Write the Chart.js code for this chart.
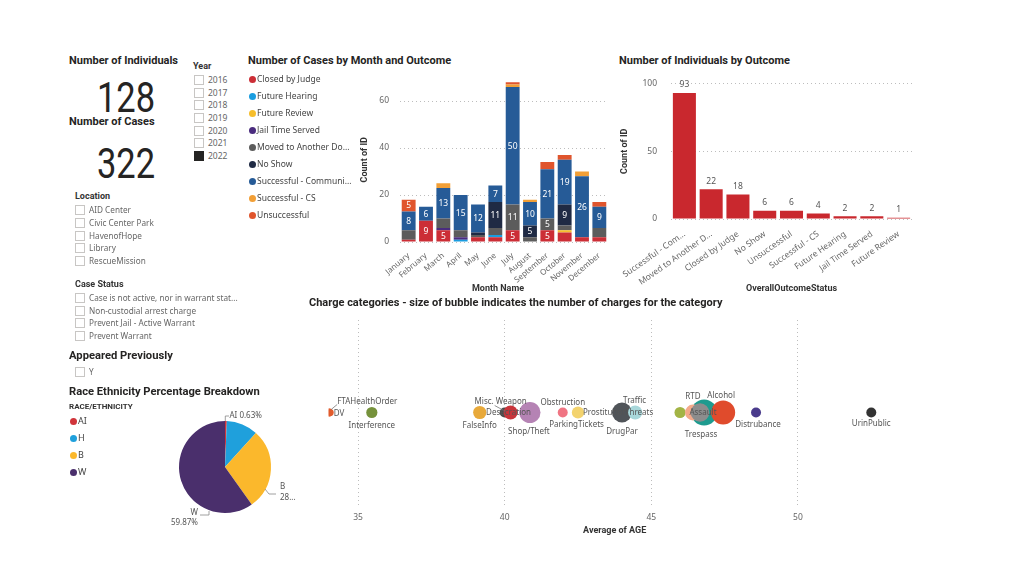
<!DOCTYPE html>
<html><head><meta charset="utf-8">
<script src="https://cdn.jsdelivr.net/npm/chart.js@4.4.1/dist/chart.umd.min.js"></script>
<style>
html,body{margin:0;padding:0;background:#fff;width:1024px;height:576px;overflow:hidden;position:relative;font-family:Roboto,"Noto Sans",sans-serif;}
.t{position:absolute;white-space:nowrap;line-height:12px;height:12px;}
.title{font-family:Roboto;font-weight:700;font-size:11px;color:#252423;}
.title2{font-family:Roboto;font-weight:700;font-size:11.2px;color:#252423;}
.head{font-family:Roboto;font-weight:700;font-size:9px;color:#333;}
.item{font-family:"Noto Sans",Roboto,sans-serif;font-size:8.2px;color:#666;}
.leg{font-family:"Noto Sans",Roboto,sans-serif;font-size:8.5px;color:#444;}
.big{position:absolute;font-family:Roboto;font-weight:400;font-size:42px;line-height:42px;color:#252423;transform:scaleX(0.82);transform-origin:center;width:80px;text-align:center;}
.box{position:absolute;width:8px;height:8px;border:1px solid #c8c6c4;background:#fff;}
.box.on{background:#252423;border-color:#252423;}
.dot{position:absolute;width:7px;height:7px;border-radius:50%;}
canvas{position:absolute;}
</style></head>
<body>
<canvas id="c1" width="260" height="228" style="left:355px;top:70px;"></canvas>
<canvas id="c2" width="305" height="228" style="left:615px;top:70px;"></canvas>
<canvas id="c3" width="600" height="230" style="left:305px;top:310px;"></canvas>
<canvas id="c4" width="145" height="130" style="left:160px;top:405px;"></canvas>
<script>
// ---------- DATA ----------
const numIndividuals = 128;
const numCases = 322;
const years = ["2016","2017","2018","2019","2020","2021","2022"];
const selectedYears = ["2022"];
const locations = ["AID Center","Civic Center Park","HavenofHope","Library","RescueMission"];
const caseStatuses = ["Case is not active, nor in warrant stat...","Non-custodial arrest charge","Prevent Jail - Active Warrant","Prevent Warrant"];
const appearedPrevious = ["Y"];

const months = ["January","February","March","April","May","June","July","August","September","October","November","December"];
const outcomes = ["Closed by Judge","Future Hearing","Future Review","Jail Time Served","Moved to Another Do...","No Show","Successful - Communi...","Successful - CS","Unsuccessful"];
const closedByJudge       = [1,9,5,0,2,2,5,0,5,4,2,2];
const futureHearing       = [0,0,0,1,0,1,0,0,0,0,0,0];
const futureReview        = [0,0,0,0,0,0,0,0,0,1,0,0];
const jailTimeServed      = [0,0,1,1,0,0,0,0,0,0,0,0];
const movedToAnother      = [4,0,4,3,1,3,11,2,5,2,0,4];
const noShow              = [0,0,0,0,1,11,0,5,0,9,0,0];
const successfulCommunity = [8,6,13,15,12,7,50,10,21,19,26,9];
const successfulCS        = [0,0,2,0,0,0,1,1,0,0,2,0];
const unsuccessful        = [5,0,0,0,0,0,1,0,3,2,0,2];
const monthTicks = [0,20,40,60];

const outcomeLabels = ["Successful - Com...","Moved to Another D...","Closed by Judge","No Show","Unsuccessful","Successful - CS","Future Hearing","Jail Time Served","Future Review"];
const individuals = [93,22,18,6,6,4,2,2,1];
const outcomeTicks = [0,50,100];

const races = ["AI","H","B","W"];
const racePct = [0.63,11.08,28.42,59.87];

const charges   = ["DV","FTAHealthOrder","Interference","FalseInfo","Misc. Weapon","Desecration","Shop/Theft","Obstruction","ParkingTickets","Prostitution","Other1","DrugPar","Threats","Traffic","Other2","Trespass","RTD","Assault","Alcohol","Distrubance","UrinPublic"];
const avgAge    = [34.0,34.05,35.47,39.15,40.0,40.2,40.86,41.98,42.45,42.5,43.9,44.0,44.45,44.5,45.98,46.8,46.42,46.66,47.45,48.57,52.5];
const chargeCount = [3,2,5,7,4,8,18,4,3,6,6,16,8,3,5,27,10,14,23,4,4];
const ageTicks = [35,40,45,50];

// ---------- STYLES ----------
const stackColors = ['#CC2E36','#1A9DE0','#F6BE2C','#4A2C7E','#5C5C5C','#1F2A44','#265B97','#F29F36','#E0552D'];
const stackSeries = [closedByJudge,futureHearing,futureReview,jailTimeServed,movedToAnother,noShow,successfulCommunity,successfulCS,unsuccessful];
const raceColors = ['#D0343A','#1FA0DC','#FBB82C','#4A2F6C'];
const chargeColors = ['#E15B2C','#E15B2C','#76923C','#E8A93A','#4B4B4B','#C8353B','#B583B4','#F07583','#F3D36E','#F3D36E','#1E8C93','#505459','#A8D7DA','#A8D7DA','#A3B445','#1E9B8F','#F4A98A','#8D8D8D','#E04B2C','#4A3B8C','#333333'];

// ---------- HTML PANELS ----------
function txt(s, x, y, cls){ const d=document.createElement('div'); d.className='t '+cls; d.textContent=s; d.style.left=x+'px'; d.style.top=(y-6)+'px'; document.body.appendChild(d); return d; }
function box(x, y, on){ const d=document.createElement('div'); d.className='box'+(on?' on':''); d.style.left=x+'px'; d.style.top=(y-5)+'px'; document.body.appendChild(d); }
function dot(x, y, c){ const d=document.createElement('div'); d.className='dot'; d.style.background=c; d.style.left=x+'px'; d.style.top=(y-3.5)+'px'; document.body.appendChild(d); }

txt("Number of Individuals", 69, 61, 'title');
const b1=document.createElement('div'); b1.className='big'; b1.textContent=numIndividuals; b1.style.left='86px'; b1.style.top='76.6px'; document.body.appendChild(b1);
txt("Number of Cases", 69, 122, 'title');
const b2=document.createElement('div'); b2.className='big'; b2.textContent=numCases; b2.style.left='86px'; b2.style.top='142.6px'; document.body.appendChild(b2);

txt("Year", 193, 66, 'head');
years.forEach((y,i)=>{ const yc=80+i*12.67; box(194, yc, selectedYears.includes(y)); txt(y, 208, yc, 'item').style.fontSize='8.5px'; });

txt("Location", 75, 196, 'head');
locations.forEach((l,i)=>{ const yc=210+i*12.75; box(75, yc, false); txt(l, 89, yc, 'item'); });
txt("Case Status", 75, 284, 'head');
caseStatuses.forEach((l,i)=>{ const yc=298+i*12.7; box(75, yc, false); txt(l, 89, yc, 'item'); });
txt("Appeared Previously", 69, 356, 'title2');
appearedPrevious.forEach((l,i)=>{ const yc=372+i*12.7; box(75, yc, false); txt(l, 89, yc, 'item'); });

txt("Race Ethnicity Percentage Breakdown", 69, 392, 'title2');
const rh = txt("RACE/ETHNICITY", 69, 407, 'head'); rh.style.fontSize='8px';
races.forEach((r,i)=>{ const yc=421+i*17; dot(70, yc, raceColors[i]); txt(r, 78, yc, 'leg').style.fontSize='9px'; });

txt("Number of Cases by Month and Outcome", 248, 61, 'title');
outcomes.forEach((o,i)=>{ const yc=79+i*17; dot(249, yc, stackColors[i]); txt(o, 257, yc, 'leg'); });
txt("Number of Individuals by Outcome", 619, 61, 'title');
txt("Charge categories - size of bubble indicates the number of charges for the category", 309, 303, 'title');

// ---------- CHART DEFAULTS ----------
Chart.defaults.font.family = '"Noto Sans", Roboto, sans-serif';
Chart.defaults.color = '#666';
Chart.defaults.animation = false;
Chart.defaults.responsive = false;
Chart.defaults.devicePixelRatio = 1;
const axisTitleFont = {family:'Roboto', weight:'bold', size:9};
function noPad(s){ s.paddingTop=0; s.paddingBottom=0; s.paddingLeft=0; s.paddingRight=0; }

// ---------- PLUGINS ----------
const segLabelPlugin = {id:'segLabels', afterDatasetsDraw(chart){
  const ctx=chart.ctx; ctx.save(); ctx.font='8.5px "Noto Sans"'; ctx.fillStyle='#fff'; ctx.textAlign='center'; ctx.textBaseline='middle';
  chart.data.datasets.forEach((ds,i)=>{ chart.getDatasetMeta(i).data.forEach((bar,j)=>{ const v=ds.data[j]; if(v>=5){ ctx.fillText(String(v), bar.x, (bar.y+bar.base)/2+0.5); } }); });
  ctx.restore(); }};
const axisTitlePlugin = {id:'axisTitles', afterDraw(chart, args, opts){
  const ctx=chart.ctx, a=chart.chartArea; ctx.save(); ctx.font='bold 9px Roboto'; ctx.fillStyle='#333'; ctx.textAlign='center'; ctx.textBaseline='middle';
  ctx.fillText(opts.x, (a.left+a.right)/2 - 6, chart.height - 9.5);
  ctx.translate(9.5, (a.top+a.bottom)/2); ctx.rotate(-Math.PI/2); ctx.fillText(opts.y, 0, 0);
  ctx.restore(); }};
const topLabelPlugin = {id:'topLabels', afterDatasetsDraw(chart){
  const ctx=chart.ctx; ctx.save(); ctx.font='8.5px "Noto Sans"'; ctx.fillStyle='#555'; ctx.textAlign='center'; ctx.textBaseline='middle';
  chart.getDatasetMeta(0).data.forEach((bar,j)=>{ ctx.fillText(String(chart.data.datasets[0].data[j]), bar.x, bar.y-8); });
  ctx.restore(); }};

const bubblePlace = {
  'DV':{dx:5,dy:1,align:'left'},
  'FTAHealthOrder':{dx:7,dy:-11,align:'left',leader:[1,-3,7,-8]},
  'Interference':{dx:0,dy:13},
  'FalseInfo':{dx:0,dy:13},
  'Misc. Weapon':{dx:-4,dy:-11,leader:[-10,-7,1,-1]},
  'Desecration':{dx:-2,dy:0},
  'Shop/Theft':{dx:-1,dy:19},
  'Obstruction':{dx:0,dy:-10},
  'ParkingTickets':{dx:0,dy:12},
  'Prostitution':{dx:5,dy:0,align:'left'},
  'DrugPar':{dx:0,dy:19},
  'Threats':{dx:4,dy:0},
  'Traffic':{dx:-2,dy:-12},
  'RTD':{dx:0,dy:-16},
  'Assault':{dx:3,dy:0},
  'Trespass':{dx:-3,dy:22},
  'Alcohol':{dx:-2,dy:-17},
  'Distrubance':{dx:2,dy:12},
  'UrinPublic':{dx:0,dy:11}
};
const bubbleLabelPlugin = {id:'bubbleLabels', afterDatasetsDraw(chart){
  const ctx=chart.ctx; ctx.save(); ctx.font='8px "Noto Sans"'; ctx.fillStyle='#555'; ctx.textBaseline='middle';
  chart.getDatasetMeta(0).data.forEach((pt,i)=>{ const sp=bubblePlace[charges[i]]; if(!sp) return;
    if(sp.leader){ ctx.strokeStyle='#777'; ctx.lineWidth=0.8; ctx.beginPath(); ctx.moveTo(pt.x+sp.leader[0],pt.y+sp.leader[1]); ctx.lineTo(pt.x+sp.leader[2],pt.y+sp.leader[3]); ctx.stroke(); }
    ctx.textAlign=sp.align||'center'; ctx.fillText(charges[i], pt.x+sp.dx, pt.y+sp.dy); });
  ctx.restore(); }};

const pieSpec = [
  {i:0, path:[[0.3,-46],[0.3,-51],[4,-51]], tx:4.5, ty:[-51], align:'left', lines:(r,p)=>[r+' '+p.toFixed(2)+'%']},
  {i:2, path:[[40,22],[44,27],[51,27]], tx:55, ty:[20,31], align:'left', lines:(r,p)=>[r, String(Math.floor(p))+'...']},
  {i:3, path:[[-16,44],[-16,48],[-25,48]], tx:-27, ty:[46,56], align:'right', lines:(r,p)=>[r, p.toFixed(2)+'%']}
];
const pieLabelPlugin = {id:'pieLabels', afterDatasetsDraw(chart){
  const a0=chart.getDatasetMeta(0).data[0]; const cx=a0.x, cy=a0.y; const ctx=chart.ctx; ctx.save();
  ctx.strokeStyle='#888'; ctx.lineWidth=0.8; ctx.fillStyle='#555'; ctx.font='8px "Noto Sans"'; ctx.textBaseline='middle';
  pieSpec.forEach(s=>{ ctx.beginPath(); s.path.forEach((p,k)=>{ if(k===0) ctx.moveTo(cx+p[0],cy+p[1]); else ctx.lineTo(cx+p[0],cy+p[1]); }); ctx.stroke();
    ctx.textAlign=s.align; s.lines(races[s.i], racePct[s.i]).forEach((l,k)=>ctx.fillText(l, cx+s.tx, cy+s.ty[k])); });
  ctx.restore(); }};

// ---------- CHART 1: stacked bars ----------
new Chart(document.getElementById('c1'), {
  type:'bar',
  data:{labels:months, datasets: outcomes.map((o,i)=>({label:o, data:stackSeries[i], backgroundColor:stackColors[i], borderWidth:0, categoryPercentage:1, barPercentage:0.8}))},
  options:{
    layout:{padding:{top:7.5,right:7,left:0,bottom:0}, autoPadding:false},
    plugins:{legend:{display:false}, tooltip:{enabled:false}, axisTitles:{x:'Month Name', y:'Count of ID'}},
    scales:{
      x:{stacked:true, grid:{display:false}, border:{display:false},
         ticks:{font:{size:8}, color:'#666', minRotation:40, maxRotation:40, padding:1, autoSkip:false},
         afterFit(s){ s.height=56; noPad(s); }},
      y:{stacked:true, min:0, max:70,
         afterBuildTicks(s){ s.ticks = monthTicks.map(v=>({value:v})); },
         ticks:{font:{size:8.5}, color:'#666', padding:11},
         grid:{color:'#bdbdbd', drawTicks:false}, border:{display:false, dash:[1,3]},
         afterFit(s){ s.width=45; noPad(s); }}
    }
  },
  plugins:[segLabelPlugin, axisTitlePlugin]
});

// ---------- CHART 2: outcome bars ----------
new Chart(document.getElementById('c2'), {
  type:'bar',
  data:{labels:outcomeLabels, datasets:[{data:individuals, backgroundColor:'#C9282E', borderWidth:0, categoryPercentage:1, barPercentage:0.86}]},
  options:{
    layout:{padding:{top:13.5,right:8,left:0,bottom:0}, autoPadding:false},
    plugins:{legend:{display:false}, tooltip:{enabled:false}},
    scales:{
      x:{grid:{display:false}, border:{display:false},
         ticks:{font:{size:8.5}, color:'#666', minRotation:35, maxRotation:35, padding:2, autoSkip:false},
         title:{display:true, text:'OverallOutcomeStatus', font:axisTitleFont, color:'#333', padding:{top:0,bottom:4}},
         afterFit(s){ s.height=79; noPad(s); }},
      y:{min:0, max:100,
         afterBuildTicks(s){ s.ticks = outcomeTicks.map(v=>({value:v})); },
         ticks:{font:{size:8.5}, color:'#666', padding:14},
         grid:{color:'#bdbdbd', drawTicks:false}, border:{display:false, dash:[1,3]},
         title:{display:true, text:'Count of ID', font:axisTitleFont, color:'#333', padding:{top:4,bottom:0}},
         afterFit(s){ s.width=56; noPad(s); }}
    }
  },
  plugins:[topLabelPlugin]
});

// ---------- CHART 3: bubbles ----------
const bubbleScale = 2.5;
new Chart(document.getElementById('c3'), {
  type:'bubble',
  data:{datasets:[{data: charges.map((c,i)=>({x:avgAge[i], y:1, r:bubbleScale*Math.sqrt(chargeCount[i])})), backgroundColor:chargeColors, borderWidth:0}]},
  options:{
    layout:{padding:{left:23.7,right:4.4,top:10,bottom:0}, autoPadding:false},
    plugins:{legend:{display:false}, tooltip:{enabled:false}},
    scales:{
      x:{type:'linear', min:34, max:53.5,
         afterBuildTicks(s){ s.ticks = ageTicks.map(v=>({value:v})); },
         grid:{color:'#bdbdbd', drawTicks:false}, border:{display:false, dash:[1,3]},
         ticks:{font:{size:8.5}, color:'#666', padding:7},
         title:{display:true, text:'Average of AGE', font:axisTitleFont, color:'#333', padding:{top:0,bottom:4}},
         afterFit(s){ s.height=35; noPad(s); }},
      y:{display:false, min:0, max:2}
    }
  },
  plugins:[bubbleLabelPlugin]
});

// ---------- CHART 4: pie ----------
new Chart(document.getElementById('c4'), {
  type:'pie',
  data:{labels:races, datasets:[{data:racePct, backgroundColor:raceColors, borderWidth:0}]},
  options:{
    layout:{padding:{left:19,top:16,right:34,bottom:22}},
    plugins:{legend:{display:false}, tooltip:{enabled:false}}
  },
  plugins:[pieLabelPlugin]
});
</script>
</body></html>
